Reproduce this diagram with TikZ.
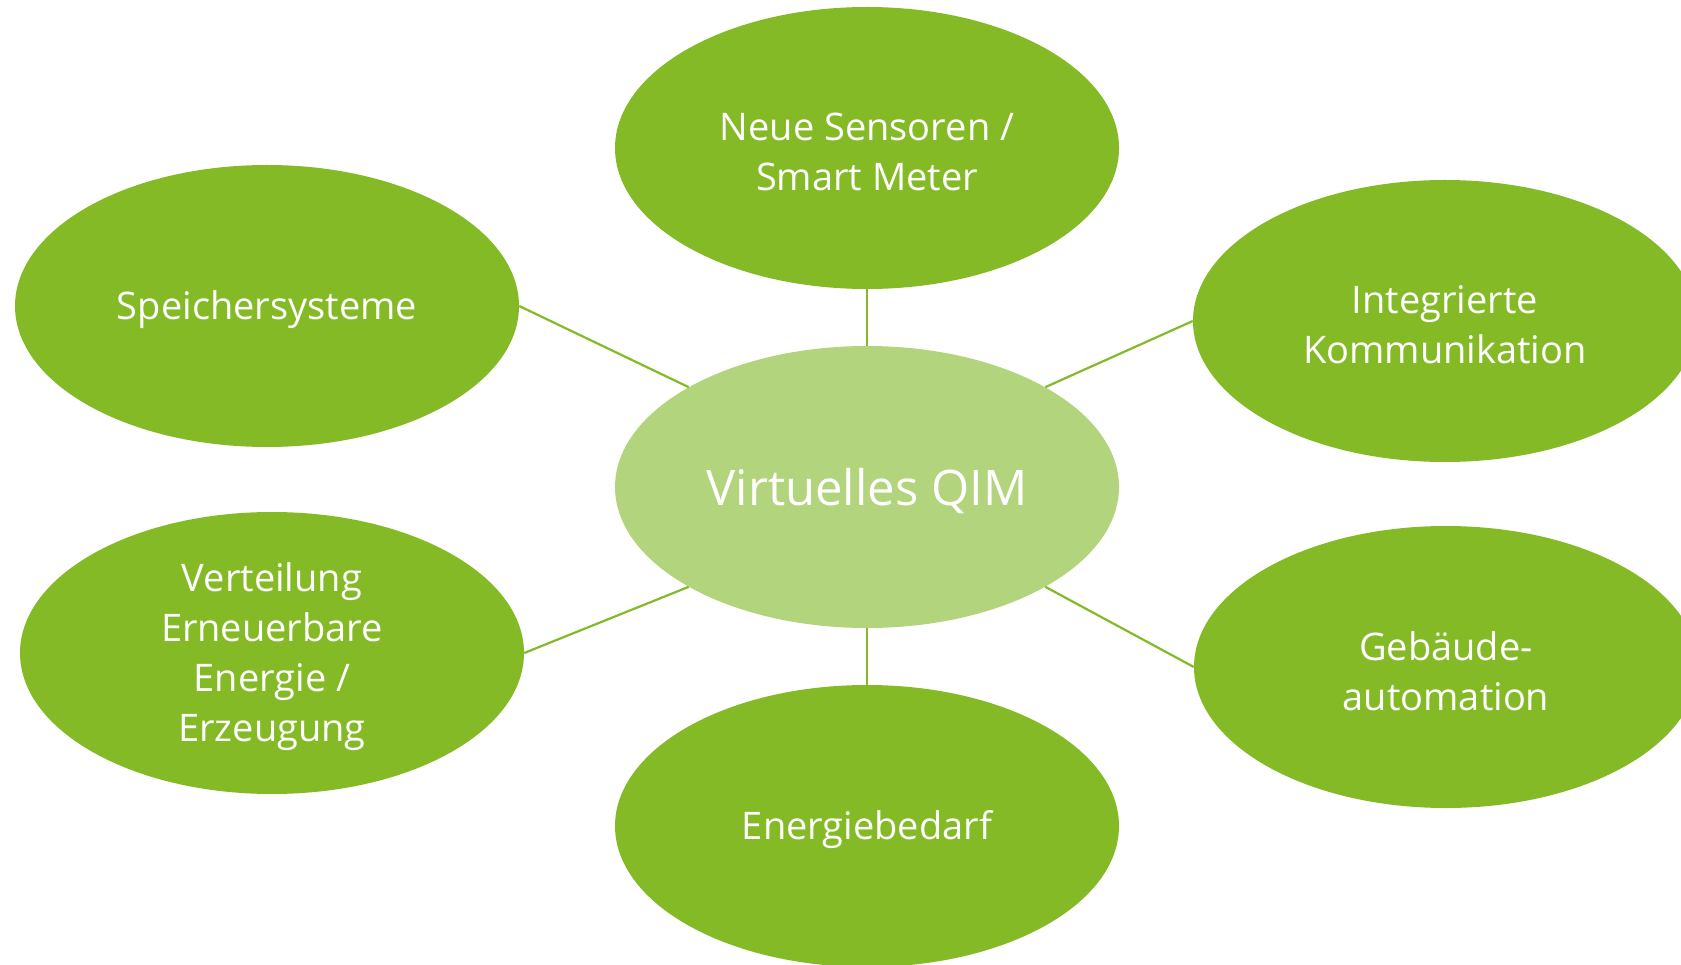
\documentclass[tikz,border=0pt]{standalone}
\usepackage{fontspec}
\setmainfont{Open Sans}
\usetikzlibrary{shapes.geometric}
\definecolor{dgreen}{HTML}{84BA26}
\definecolor{lgreen}{HTML}{B2D47C}
\tikzset{
  bubble/.style={ellipse, fill=dgreen, draw=none, inner sep=0pt, minimum width=504pt, minimum height=282pt},
  hub/.style={bubble, fill=lgreen},
  txt/.style={text=white, align=center, inner sep=0pt, yshift=-4pt, font=\fontsize{38}{50}\selectfont},
  hubtxt/.style={text=white, align=center, inner sep=0pt, yshift=-4pt, font=\fontsize{49}{60}\selectfont},
  conn/.style={draw=dgreen, line width=2.2pt}
}
\begin{document}
\begin{tikzpicture}[x=1pt,y=-1pt]
\useasboundingbox (0,0) rectangle (1681,965);
\node[hub] (C) at (867,487) {};
\node[bubble] (N) at (867,148) {};
\node[bubble] (S) at (267,306) {};
\node[bubble] (I) at (1445,321) {};
\node[bubble] (V) at (272,653) {};
\node[bubble] (G) at (1446,667) {};
\node[bubble] (E) at (867,826) {};
\draw[conn] (N.south) -- (C.north);
\draw[conn] (C.south) -- (E.north);
\draw[conn] (S.east) -- (C.north west);
\draw[conn] (I.west) -- (C.north east);
\draw[conn] (V.east) -- (C.south west);
\draw[conn] (G.west) -- (C.south east);
\node[hubtxt] (Ct) at (C) {Virtuelles QIM};
\node[txt] (Nt) at (N) {Neue Sensoren /\\Smart Meter};
\node[txt] (St) at (S) {Speichersysteme};
\node[txt] (It) at (I) {Integrierte\\Kommunikation};
\node[txt] (Vt) at (V) {Verteilung\\Erneuerbare\\Energie /\\Erzeugung};
\node[txt] (Gt) at (G) {Gebäude-\\automation};
\node[txt] (Et) at (E) {Energiebedarf};
\end{tikzpicture}
\end{document}
